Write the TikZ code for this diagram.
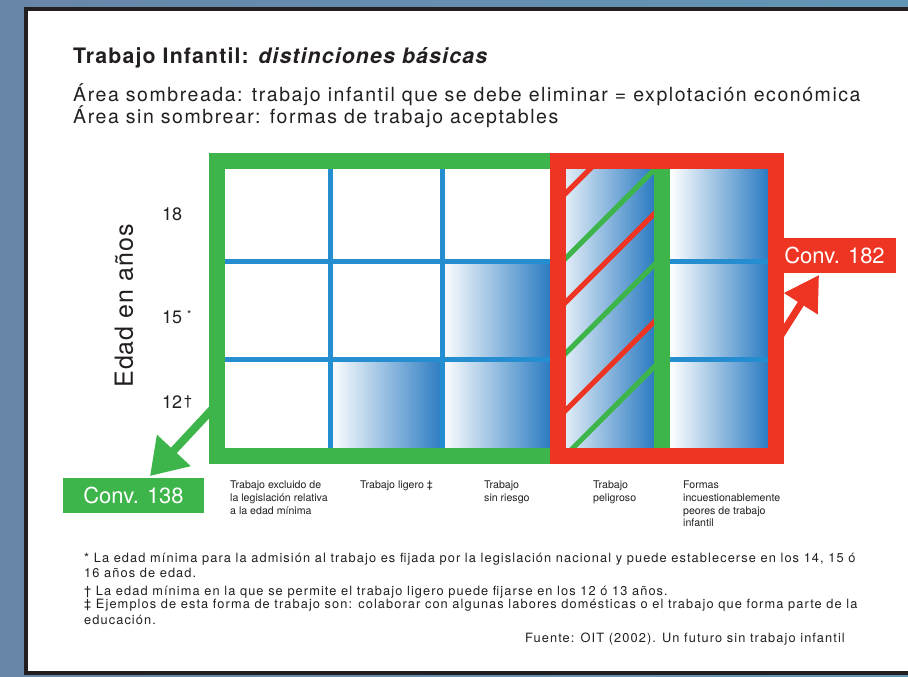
\documentclass[tikz,border=0pt]{standalone}
\usepackage{fontspec}
\setmainfont{TeX Gyre Heros}
\usetikzlibrary{arrows.meta}
\definecolor{cgreen}{RGB}{62,181,74}
\definecolor{cred}{RGB}{238,53,36}
\definecolor{cblue}{RGB}{36,142,208}
\definecolor{cshade}{RGB}{44,124,194}
\definecolor{cpanel}{RGB}{35,31,32}
\definecolor{bgA}{RGB}{104,134,168}
\definecolor{bgB}{RGB}{98,150,182}
\definecolor{ctext}{RGB}{35,31,32}
\newcommand\fs[1]{\fontsize{#1}{#1}\selectfont}
\newcommand\lsp[1]{\addfontfeatures{LetterSpace=#1}}
\newcommand\collabfont{\fontsize{10.6}{12.6}\selectfont}
\tikzset{
  grad/.style={left color=white, right color=cshade},
  gridline/.style={draw=cblue, line width=5pt},
  hatchred/.style={draw=cred, line width=5pt},
  hatchgreen/.style={draw=cgreen, line width=5pt},
  txt/.style={anchor=base west, inner sep=0pt, text=ctext},
  collabel/.style={anchor=north west, inner sep=0pt, text=ctext, align=left, font=\collabfont},
  convbox/.style={inner sep=0pt, text=white, font=\fs{22}},
}
\begin{document}
\begin{tikzpicture}[x=1pt,y=-1pt]
\useasboundingbox (0,0) rectangle (908,677);
\clip (0,0) rectangle (908,677);
% background
\shade[left color=bgA, right color=bgB] (0,0) rectangle (908,677);
% panel
\draw[line width=4pt, draw=cpanel, fill=white] (26,9.5) rectangle (940,673);

% shaded cells
\fill[grad] (330,359) rectangle (442,448);
\fill[grad] (442,261) rectangle (550,448);
\fill[left color=white!85!cshade, right color=cshade] (566,169) rectangle (654,448);
\fill[grad] (670,169) rectangle (768,448);

% grid lines
\draw[gridline] (225,261) -- (550,261);
\draw[gridline] (225,359) -- (550,359);
\draw[gridline] (670,261) -- (768,261);
\draw[gridline] (670,359) -- (768,359);
\draw[gridline] (330,169) -- (330,448);
\draw[gridline] (442,169) -- (442,448);

% hatching in the hazardous column
\begin{scope}
\clip (566,169) rectangle (654,448);
\foreach \y in {193,302,410}{\draw[hatchred] (556,\y+10) -- (696,\y-130);}
\foreach \y in {258,353,455}{\draw[hatchgreen] (556,\y+10) -- (696,\y-130);}
\end{scope}

% green bar between hazardous and worst forms
\fill[cgreen] (654,161) rectangle (670,456);

% frames
\draw[cgreen, line width=16pt] (217,161) rectangle (558,456);
\draw[cred, line width=16pt] (558,161) rectangle (776,456);

% convention boxes
\node[convbox, fill=cgreen, minimum width=141pt, minimum height=35pt] (c138) at (133.5,495.5) {Conv. 138};
\node[convbox, fill=cred, minimum width=123pt, minimum height=35pt] (c182) at (834.5,255.5) {Conv. 182};

% arrows
\coordinate (g1) at (218,403);
\coordinate (g2) at (150,476);
\draw[cgreen, line width=8pt, -{Triangle[length=35pt, width=44pt]}] (g1) -- (g2);
\coordinate (r1) at (776,343);
\coordinate (r2) at (819,275);
\draw[cred, line width=7pt, -{Triangle[length=34pt, width=38pt]}] (r1) -- (r2);

% title and subtitles
\node[txt] (title) at (73,64) {\fs{21.3}\lsp{5.4}\bfseries Trabajo Infantil: \itshape distinciones básicas};
\node[txt] (sub1) at (73,101) {\fs{19.5}\lsp{8}Área sombreada: trabajo infantil que se debe eliminar = explotación económica};
\node[txt] (sub2) at (73,123.5) {\fs{19.5}\lsp{8}Área sin sombrear: formas de trabajo aceptables};

% axis label
\node[inner sep=0pt, rotate=90, text=ctext] (axis) at (124,306) {\fs{25}\lsp{4}Edad en años};
\node[txt] (a18) at (162,220) {\fs{18}18};
\node[txt] (a15) at (162,323) {\fs{18}15};
\node[txt] (a15s) at (187,318) {\fs{11}*};
\node[txt] (a12) at (162,408) {\fs{18}12};
\node[txt] (a12s) at (184,405) {\fs{14}†};

% column labels
\node[collabel] (l1) at (230,481) {Trabajo excluido de\\la legislación relativa\\a la edad mínima};
\node[collabel] (l2) at (360,481) {Trabajo ligero ‡};
\node[collabel] (l3) at (484,481) {Trabajo\\sin riesgo};
\node[collabel] (l4) at (593,481) {Trabajo\\peligroso};
\node[collabel] (l5) at (683,481) {Formas\\incuestionablemente\\peores de trabajo\\infantil};

% footnotes
\node[txt] (f1) at (84,562) {\fs{12.8}\lsp{8.5}* La edad mínima para la admisión al trabajo es fijada por la legislación nacional y puede establecerse en los 14, 15 ó};
\node[txt] (f2) at (84,577) {\fs{12.8}\lsp{8.5}16 años de edad.};
\node[txt] (f3) at (84,595) {\fs{12.8}\lsp{8.5}† La edad mínima en la que se permite el trabajo ligero puede fijarse en los 12 ó 13 años.};
\node[txt] (f4) at (84,608) {\fs{12.8}\lsp{8.5}‡ Ejemplos de esta forma de trabajo son: colaborar con algunas labores domésticas o el trabajo que forma parte de la};
\node[txt] (f5) at (84,624) {\fs{12.8}\lsp{8.5}educación.};
\node[anchor=base east, inner sep=0pt, text=ctext] (src) at (845,642) {\fs{12.8}\lsp{8.5}Fuente: OIT (2002). Un futuro sin trabajo infantil};
\end{tikzpicture}
\end{document}
